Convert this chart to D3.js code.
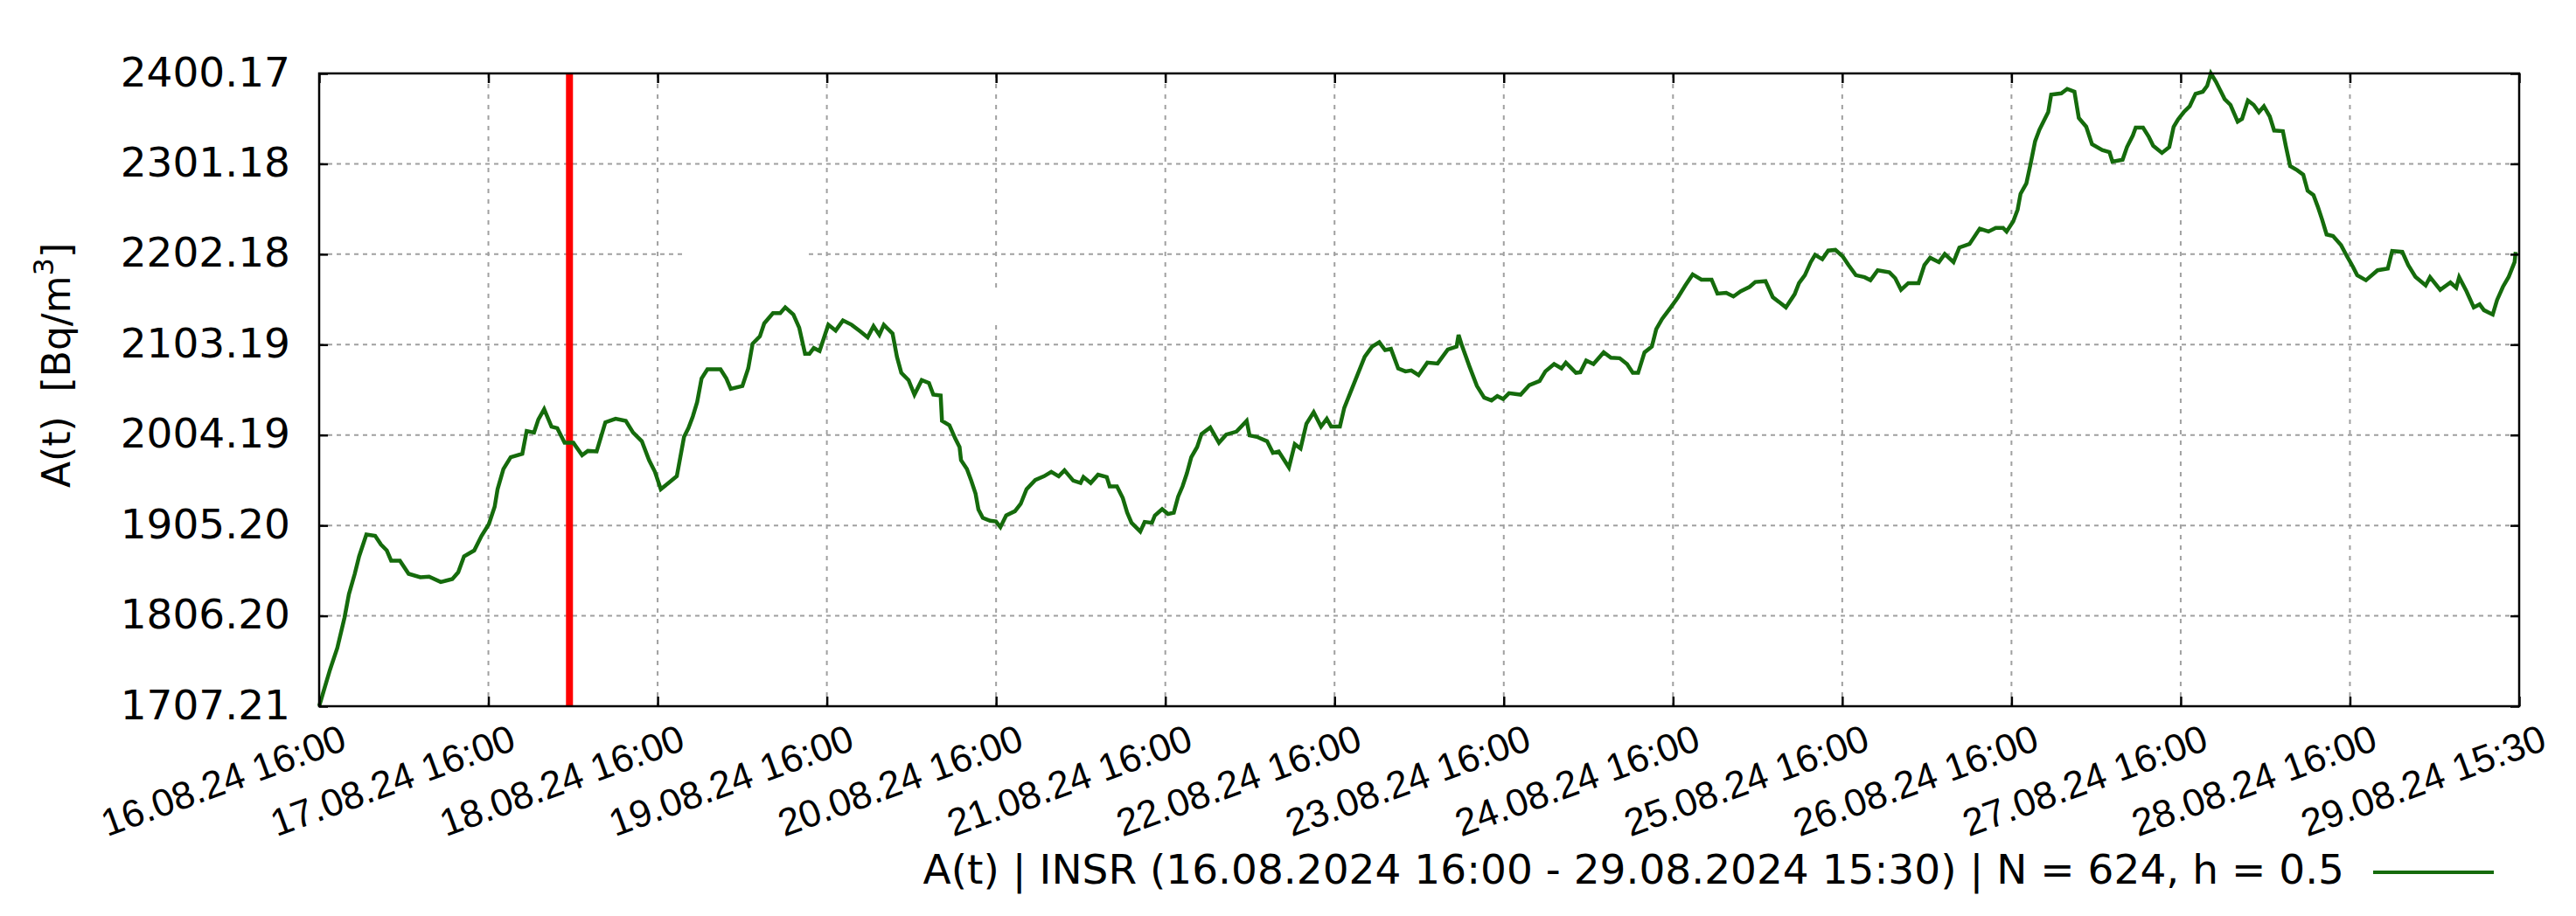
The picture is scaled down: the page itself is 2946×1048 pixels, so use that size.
<!DOCTYPE html>
<html>
<head>
<meta charset="utf-8">
<script src="https://cdn.jsdelivr.net/npm/d3@7"></script>
<style>
  body { margin: 0; background: #fff; }
  text { white-space: pre; }
</style>
</head>
<body>
<div id="chart"></div>
<script>
const width = 2946;
const height = 1048;

// hours after 16.08.2024 16:00
const sampleHours = [
  0, 1.53, 2.57, 3.60, 4.22, 5.05, 5.67, 6.70, 7.94, 8.77, 9.59, 10.21, 11.45, 12.69, 14.35, 15.59, 17.24, 18.89, 19.72, 20.55,
  21.99, 23.03, 24.06, 24.89, 25.30, 26.13, 27.16, 28.81, 29.43, 30.47, 31.09, 31.91, 32.95, 33.77, 34.81, 36.05, 37.29, 38.11, 39.35, 40.59,
  42.04, 43.49, 44.52, 45.76, 46.79, 47.62, 48.45, 49.48, 50.72, 51.75, 52.37, 52.99, 53.61, 54.23, 55.06, 56.92, 57.75, 58.37, 60.02, 60.85,
  61.47, 62.50, 63.12, 64.36, 65.39, 66.10, 67.25, 68.08, 68.91, 69.53, 70.15, 70.97, 72.21, 73.25, 74.28, 75.52, 76.76, 77.79, 78.62, 79.45,
  80.08, 81.32, 81.94, 82.56, 83.59, 84.42, 85.45, 86.48, 87.10, 88.14, 88.33, 89.38, 90.20, 90.82, 91.03, 91.86, 92.47, 93.09, 93.50, 94.12,
  95.15, 95.98, 96.61, 97.43, 98.67, 99.49, 100.32, 101.56, 102.81, 103.83, 104.88, 105.70, 106.94, 107.98, 108.39, 109.42, 110.46, 111.70, 112.11, 113.14,
  113.97, 114.59, 115.21, 116.45, 117.07, 118.10, 118.52, 119.55, 120.38, 121.20, 121.82, 122.44, 123.06, 123.68, 124.51, 125.13, 126.37, 127.61, 128.64, 130.09,
  131.54, 131.95, 132.98, 134.43, 135.26, 136.08, 137.53, 138.36, 139.18, 140.01, 141.04, 142.08, 142.90, 143.52, 144.76, 145.38, 146.21, 147.04, 148.28, 149.31,
  150.34, 151.17, 152.00, 153.03, 154.06, 154.89, 155.92, 157.16, 158.61, 160.06, 161.30, 161.59, 162.12, 163.16, 164.19, 165.22, 166.26, 167.08, 167.91, 168.74,
  170.39, 171.63, 173.08, 173.90, 175.14, 176.18, 176.80, 177.42, 178.24, 178.86, 179.69, 180.72, 182.17, 183.20, 184.44, 185.48, 186.30, 187.05, 187.96, 189.00,
  189.62, 190.45, 191.69, 192.72, 193.75, 194.79, 196.03, 197.47, 198.30, 199.54, 200.57, 201.61, 202.85, 203.67, 205.12, 206.15, 208.01, 209.25, 209.87, 210.70,
  211.53, 212.15, 213.17, 214.01, 215.03, 216.06, 216.89, 217.93, 219.17, 220.00, 221.03, 222.69, 223.51, 224.34, 225.37, 226.82, 227.65, 228.47, 229.71, 230.54,
  231.78, 232.61, 234.05, 235.50, 236.74, 237.77, 238.81, 239.31, 240.25, 240.87, 241.29, 242.11, 242.73, 243.35, 243.97, 244.59, 245.21, 245.63, 247.07, 247.90,
  248.93, 249.55, 250.60, 251.42, 252.87, 253.90, 254.32, 255.76, 256.38, 257.21, 257.62, 258.66, 259.48, 260.10, 261.34, 262.38, 263.00, 263.62, 264.44, 265.27,
  266.10, 267.13, 267.75, 268.28, 268.99, 270.23, 271.06, 272.08, 272.70, 273.53, 274.35, 275.09, 275.80, 276.63, 277.25, 278.49, 278.90, 279.52, 280.55, 281.38,
  282.00, 282.83, 283.45, 284.07, 284.69, 285.60, 286.75, 287.58, 288.41, 289.03, 290.27, 291.92, 293.37, 293.99, 295.43, 296.26, 297.29, 298.74, 299.36, 300.81,
  302.25, 303.08, 303.49, 304.53, 305.56, 306.39, 307.01, 308.25, 308.87, 309.69, 310.52, 311.35, 311.5
];

// A(t) in Bq/m3
const activity = [
  1707.21, 1747.0, 1770.9, 1804.4, 1829.9, 1852.2, 1871.4, 1895.3, 1893.8, 1884.2, 1877.8, 1866.6, 1866.6, 1852.2, 1848.4, 1849.1, 1843.3, 1846.5, 1853.9, 1871.4,
  1877.8, 1893.8, 1906.5, 1925.6, 1944.8, 1967.0, 1979.9, 1983.7, 2008.6, 2006.9, 2021.3, 2032.5, 2013.4, 2011.7, 1995.7, 1995.7, 1982.1, 1986.8, 1986.2, 2018.1,
  2022.0, 2019.7, 2006.9, 1997.4, 1976.6, 1963.9, 1944.8, 1951.2, 1959.1, 2002.2, 2011.7, 2024.5, 2040.4, 2066.0, 2076.1, 2076.1, 2066.0, 2054.8, 2057.9, 2077.1,
  2104.2, 2112.2, 2126.5, 2137.7, 2137.7, 2144.0, 2136.1, 2121.8, 2093.1, 2093.1, 2099.5, 2096.2, 2124.9, 2118.6, 2129.7, 2124.9, 2117.6, 2111.2, 2123.4, 2113.8,
  2124.9, 2115.3, 2089.9, 2072.3, 2064.3, 2048.4, 2064.3, 2061.2, 2048.4, 2047.4, 2019.7, 2014.9, 2000.5, 1991.0, 1976.6, 1967.0, 1954.3, 1940.0, 1922.5, 1913.5,
  1910.3, 1909.6, 1903.3, 1916.1, 1920.8, 1928.8, 1944.8, 1955.0, 1959.1, 1963.9, 1959.1, 1965.5, 1954.3, 1951.7, 1958.1, 1951.7, 1960.7, 1958.1, 1947.9, 1947.9,
  1935.2, 1919.2, 1908.1, 1898.5, 1909.1, 1908.1, 1916.1, 1923.0, 1917.7, 1919.2, 1936.8, 1947.9, 1962.3, 1979.9, 1991.0, 2005.3, 2012.4, 1995.7, 2004.7, 2007.9,
  2019.7, 2003.8, 2002.2, 1997.4, 1984.7, 1986.2, 1968.7, 1994.2, 1989.4, 2016.5, 2029.2, 2013.4, 2022.0, 2013.4, 2013.4, 2034.0, 2050.0, 2066.0, 2089.9, 2101.0,
  2105.8, 2097.2, 2098.5, 2077.1, 2073.9, 2074.9, 2069.8, 2083.5, 2082.5, 2097.8, 2101.0, 2113.8, 2101.0, 2078.7, 2057.9, 2045.2, 2042.1, 2046.8, 2043.6, 2050.0,
  2048.4, 2058.9, 2063.4, 2073.9, 2081.9, 2077.1, 2083.5, 2078.7, 2072.3, 2073.0, 2085.7, 2081.9, 2094.7, 2088.9, 2088.3, 2081.9, 2072.3, 2072.3, 2094.7, 2101.0,
  2120.1, 2131.3, 2144.0, 2155.2, 2168.0, 2180.1, 2174.4, 2174.4, 2159.1, 2160.0, 2155.9, 2161.6, 2166.4, 2171.8, 2172.7, 2155.2, 2144.0, 2158.4, 2170.5, 2179.2,
  2193.5, 2201.4, 2196.7, 2206.2, 2206.9, 2199.9, 2190.3, 2179.2, 2177.0, 2173.7, 2184.6, 2182.3, 2176.0, 2163.2, 2170.5, 2170.5, 2190.3, 2198.3, 2193.5, 2202.4,
  2193.5, 2209.5, 2213.3, 2230.2, 2227.0, 2231.1, 2231.1, 2227.0, 2238.2, 2250.9, 2268.4, 2279.6, 2301.9, 2325.8, 2338.6, 2348.2, 2357.8, 2376.9, 2378.4, 2383.2,
  2380.1, 2351.4, 2341.8, 2322.7, 2316.3, 2314.0, 2303.5, 2305.7, 2319.5, 2332.2, 2340.8, 2340.8, 2330.6, 2321.0, 2313.1, 2319.5, 2341.8, 2349.7, 2357.8, 2364.1,
  2377.9, 2380.1, 2386.5, 2400.17, 2391.3, 2372.1, 2365.7, 2347.3, 2350.4, 2370.5, 2365.7, 2357.8, 2364.1, 2353.0, 2337.7, 2337.0, 2321.0, 2298.7, 2294.0, 2289.2,
  2271.7, 2266.9, 2254.1, 2239.7, 2223.8, 2222.2, 2212.0, 2199.9, 2188.7, 2179.2, 2173.7, 2184.6, 2186.5, 2205.7, 2204.7, 2190.3, 2177.5, 2168.0, 2177.0, 2163.2,
  2171.2, 2165.5, 2177.0, 2161.6, 2144.0, 2147.3, 2140.9, 2136.1, 2152.1, 2166.4, 2177.5, 2193.5, 2204.7
];

const xTickHours = [0, 24, 48, 72, 96, 120, 144, 168, 192, 216, 240, 264, 288, 312];
const xTickLabels = [
  "16.08.24 16:00", "17.08.24 16:00", "18.08.24 16:00", "19.08.24 16:00", "20.08.24 16:00",
  "21.08.24 16:00", "22.08.24 16:00", "23.08.24 16:00", "24.08.24 16:00", "25.08.24 16:00",
  "26.08.24 16:00", "27.08.24 16:00", "28.08.24 16:00", "29.08.24 15:30"
];
const yTickValues = [1707.21, 1806.20, 1905.20, 2004.19, 2103.19, 2202.18, 2301.18, 2400.17];
const markerHours = [35.5];
const legendLabel = "A(t) | INSR (16.08.2024 16:00 - 29.08.2024 15:30) | N = 624, h = 0.5";

// blank patches where the reference grid is interrupted: [hour0, hour1, value0, value1]
const gridGaps = [[51.5, 69.1, 2194, 2210], [94.9, 97.3, 2129, 2162]];

const plot = { left: 365, right: 2881, top: 84, bottom: 808 };
const lineColor = "#156b0c";
const gridColor = "#a0a0a0";
const font = "'DejaVu Sans', sans-serif";

const x = d3.scaleLinear().domain([0, 312]).range([plot.left, plot.right]);
const y = d3.scaleLinear().domain([1707.21, 2400.17]).range([plot.bottom, plot.top]);

const svg = d3.select("#chart")
    .append("svg")
    .attr("width", width)
    .attr("height", height)
    .style("background", "#fff");

// grid
svg.append("g")
    .selectAll("line")
    .data(xTickHours.slice(1, -1))
    .enter().append("line")
    .attr("x1", d => x(d)).attr("x2", d => x(d))
    .attr("y1", plot.top).attr("y2", plot.bottom)
    .attr("stroke", gridColor)
    .attr("stroke-width", 2)
    .attr("stroke-dasharray", "5,7");

svg.append("g")
    .selectAll("line")
    .data(yTickValues.slice(1, -1))
    .enter().append("line")
    .attr("x1", plot.left).attr("x2", plot.right)
    .attr("y1", d => y(d)).attr("y2", d => y(d))
    .attr("stroke", gridColor)
    .attr("stroke-width", 2)
    .attr("stroke-dasharray", "5,5");

svg.append("g")
    .selectAll("rect")
    .data(gridGaps)
    .enter().append("rect")
    .attr("x", d => x(d[0]))
    .attr("width", d => x(d[1]) - x(d[0]))
    .attr("y", d => y(d[3]))
    .attr("height", d => y(d[2]) - y(d[3]))
    .attr("fill", "#fff");

// red marker
svg.append("g")
    .selectAll("line")
    .data(markerHours)
    .enter().append("line")
    .attr("x1", d => x(d)).attr("x2", d => x(d))
    .attr("y1", plot.top).attr("y2", plot.bottom)
    .attr("stroke", "#ff0000")
    .attr("stroke-width", 8);

// data line
const points = sampleHours.map((h, i) => [h, activity[i]]);
svg.append("path")
    .datum(points)
    .attr("fill", "none")
    .attr("stroke", lineColor)
    .attr("stroke-width", 4.5)
    .attr("stroke-linejoin", "miter")
    .attr("d", d3.line().x(d => x(d[0])).y(d => y(d[1])));

// axes: ticks drawn inward on all four sides
const bottomAxis = svg.append("g")
    .attr("transform", `translate(0,${plot.bottom})`)
    .call(d3.axisBottom(x).tickValues(xTickHours).tickSize(-11).tickSizeOuter(0)
        .tickFormat((d, i) => xTickLabels[i]));

bottomAxis.selectAll("text")
    .attr("x", null).attr("y", null).attr("dy", null)
    .attr("text-anchor", "end")
    .attr("transform", "translate(33,49) rotate(-20)")
    .attr("font-family", "'Liberation Sans', Arial, sans-serif")
    .attr("font-size", 44)
    .attr("fill", "#000");

svg.append("g")
    .attr("transform", `translate(0,${plot.top})`)
    .call(d3.axisTop(x).tickValues(xTickHours).tickSize(-11).tickSizeOuter(0).tickFormat(""));

const leftAxis = svg.append("g")
    .attr("transform", `translate(${plot.left},0)`)
    .call(d3.axisLeft(y).tickValues(yTickValues).tickSize(-10).tickSizeOuter(0)
        .tickFormat(d3.format(".2f")));

leftAxis.selectAll("text")
    .attr("x", -33).attr("dy", null).attr("y", 14)
    .attr("font-family", font)
    .attr("font-size", 47)
    .attr("fill", "#000");

svg.append("g")
    .attr("transform", `translate(${plot.right},0)`)
    .call(d3.axisRight(y).tickValues(yTickValues).tickSize(-10).tickSizeOuter(0).tickFormat(""));

svg.selectAll(".domain").remove();
svg.selectAll(".tick line").attr("stroke", "#000").attr("stroke-width", 2.5);

// border
svg.append("rect")
    .attr("x", plot.left).attr("y", plot.top)
    .attr("width", plot.right - plot.left)
    .attr("height", plot.bottom - plot.top)
    .attr("fill", "none")
    .attr("stroke", "#000")
    .attr("stroke-width", 2.5);

// y axis label
const yLabel = svg.append("text")
    .attr("transform", `translate(80,${(plot.top + plot.bottom) / 2 - 28}) rotate(-90)`)
    .attr("text-anchor", "middle")
    .attr("font-family", font)
    .attr("font-size", 44)
    .attr("fill", "#000");
yLabel.append("tspan").text("A(t)  [Bq/m");
yLabel.append("tspan").attr("baseline-shift", "super").attr("font-size", 32).text("3");
yLabel.append("tspan").text("]");

// legend
svg.append("text")
    .attr("x", 2681).attr("y", 1011)
    .attr("text-anchor", "end")
    .attr("font-family", font)
    .attr("font-size", 47)
    .attr("fill", "#000")
    .text(legendLabel);

svg.append("line")
    .attr("x1", 2714).attr("x2", 2852)
    .attr("y1", 998).attr("y2", 998)
    .attr("stroke", lineColor)
    .attr("stroke-width", 4);
</script>
</body>
</html>
